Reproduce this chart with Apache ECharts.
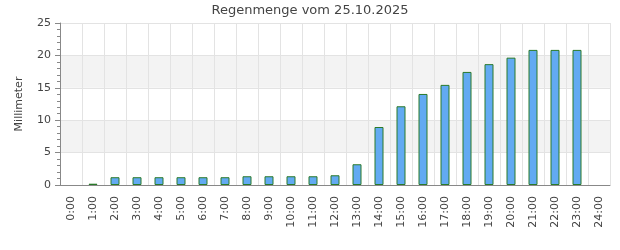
<!DOCTYPE html>
<html>
<head>
<meta charset="utf-8">
<script src="https://cdn.jsdelivr.net/npm/echarts@6/dist/echarts.min.js"></script>
<style>html,body{margin:0;padding:0;background:#fff}#c{width:620px;height:250px}</style>
</head>
<body>
<div id="c"></div>
<script>
const titleText = 'Regenmenge vom 25.10.2025';
const yAxisName = 'Millimeter';
const categories = ['0:00','1:00','2:00','3:00','4:00','5:00','6:00','7:00','8:00','9:00','10:00','11:00','12:00','13:00','14:00','15:00','16:00','17:00','18:00','19:00','20:00','21:00','22:00','23:00','24:00'];
const rainValues = [null,0.2,1.2,1.2,1.2,1.2,1.2,1.2,1.35,1.35,1.35,1.35,1.5,3.2,8.95,12.15,14.05,15.45,17.45,18.65,19.65,20.85,20.85,20.85,null];
const yMin = 0, yMax = 25, yStep = 5;

const chart = echarts.init(document.getElementById('c'), null, {renderer:'canvas'});
chart.setOption({
  animation: false,
  textStyle: {fontFamily: 'DejaVu Sans'},
  title: {
    text: titleText, left: 'center', top: 4, padding: 0,
    textStyle: {fontFamily: 'DejaVu Sans', fontSize: 13, fontWeight: 'normal', color: '#444'}
  },
  grid: {left: 60, right: 10, top: 23, bottom: 65, containLabel: false},
  xAxis: {
    type: 'category', data: categories, boundaryGap: true,
    axisLine: {show: true, lineStyle: {color: '#888', width: 1}},
    axisTick: {show: false},
    axisLabel: {rotate: 90, interval: 0, margin: 11, fontSize: 11, color: '#444', fontFamily: 'DejaVu Sans'},
    splitLine: {show: true, interval: 0, lineStyle: {color: '#e3e3e3', width: 1}}
  },
  yAxis: {
    type: 'value', min: yMin, max: yMax, interval: yStep,
    name: yAxisName, nameLocation: 'middle', nameGap: 35, nameRotate: 90,
    nameTextStyle: {fontSize: 11, color: '#444', fontFamily: 'DejaVu Sans'},
    axisLine: {show: true, lineStyle: {color: '#888', width: 1}},
    axisTick: {show: true, length: 5, lineStyle: {color: '#888'}},
    minorTick: {show: true, splitNumber: 5, length: 3, lineStyle: {color: '#888'}},
    axisLabel: {fontSize: 11, color: '#444', margin: 9, fontFamily: 'DejaVu Sans'},
    splitLine: {show: true, lineStyle: {color: '#e3e3e3', width: 1}},
    splitArea: {show: true, areaStyle: {color: ['rgba(255,255,255,0)', '#f3f3f3']}}
  },
  series: [{
    type: 'bar', data: rainValues, barWidth: 9,
    itemStyle: {color: '#62aaf2', borderColor: '#2a7a2a', borderWidth: 1}
  }]
});
</script>
</body>
</html>
